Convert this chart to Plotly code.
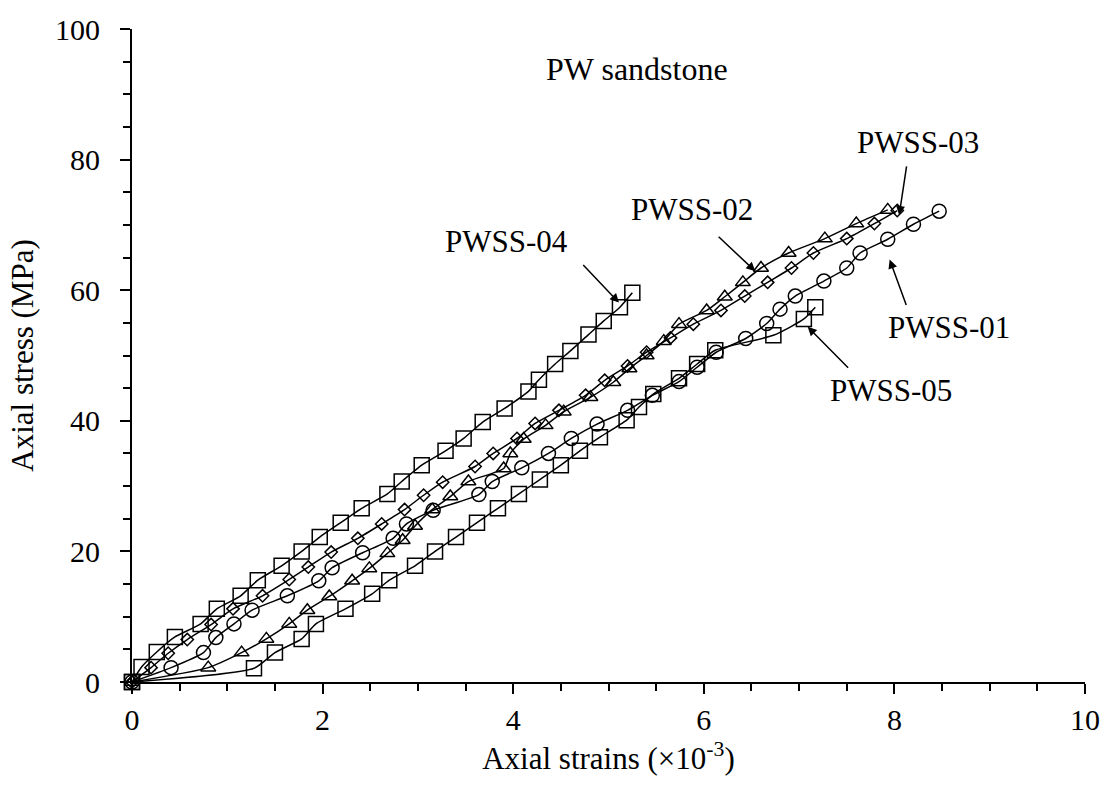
import plotly.graph_objects as go

# ---- data (strain x10^-3, stress MPa) ----
pwss01_x = [0, 0.41, 0.75, 0.88, 1.07, 1.26, 1.63, 1.96, 2.10, 2.42, 2.74, 2.88, 3.16, 3.64, 3.78, 4.09, 4.37, 4.61,
            4.88, 5.20, 5.46, 5.74, 5.93, 6.13, 6.44, 6.66, 6.80, 6.96, 7.26, 7.50, 7.64, 7.93, 8.20, 8.47]
pwss01_y = [0, 2.2, 4.5, 6.8, 8.9, 11.0, 13.2, 15.5, 17.5, 19.8, 22.0, 24.2, 26.3, 28.7, 30.7, 32.8, 35.0, 37.3,
            39.5, 41.6, 43.9, 46.0, 48.2, 50.5, 52.6, 54.9, 57.1, 59.1, 61.4, 63.4, 65.7, 67.8, 70.1, 72.1]

pwss02_x = [0, 0.2, 0.38, 0.58, 0.83, 1.06, 1.37, 1.65, 1.85, 2.09, 2.37, 2.62, 2.86, 3.06, 3.26, 3.60, 3.79, 4.04,
            4.23, 4.48, 4.76, 4.96, 5.20, 5.40, 5.65, 5.89, 6.18, 6.43, 6.67, 6.92, 7.15, 7.50, 7.79, 8.03]
pwss02_y = [0, 2.2, 4.4, 6.5, 8.8, 11.2, 13.2, 15.7, 17.6, 19.9, 22.0, 24.2, 26.4, 28.6, 30.6, 33.0, 35.0, 37.3,
            39.6, 41.6, 43.9, 46.2, 48.4, 50.5, 52.7, 54.8, 56.9, 59.1, 61.2, 63.4, 65.7, 67.9, 70.2, 72.2]

pwss03_x = [0, 0.80, 1.15, 1.41, 1.65, 1.84, 2.07, 2.31, 2.49, 2.68, 2.84, 2.97, 3.15, 3.34, 3.53, 3.90, 3.97, 4.11,
            4.34, 4.53, 4.81, 5.05, 5.22, 5.40, 5.58, 5.74, 6.03, 6.22, 6.41, 6.60, 6.89, 7.27, 7.60, 7.93]
pwss03_y = [0, 2.2, 4.5, 6.6, 8.9, 11.0, 13.1, 15.5, 17.4, 19.7, 21.7, 23.9, 26.4, 28.4, 30.7, 32.7, 35.0, 37.2,
            39.3, 41.4, 43.6, 45.9, 48.0, 50.0, 52.2, 54.8, 56.9, 59.0, 61.2, 63.4, 65.7, 67.9, 70.2, 72.3]

pwss04_x = [0, 0.1, 0.26, 0.45, 0.72, 0.89, 1.14, 1.32, 1.57, 1.78, 1.97, 2.19, 2.41, 2.68, 2.83, 3.04, 3.29, 3.48,
            3.68, 3.91, 4.16, 4.27, 4.44, 4.60, 4.79, 4.95, 5.12, 5.25]
pwss04_y = [0, 2.3, 4.6, 6.9, 8.9, 11.2, 13.2, 15.6, 17.8, 20.0, 22.2, 24.4, 26.6, 28.8, 30.7, 33.2, 35.4, 37.3,
            39.8, 41.9, 44.5, 46.3, 48.7, 50.7, 53.2, 55.3, 57.4, 59.6]

pwss05_x = [0, 1.28, 1.50, 1.78, 1.93, 2.24, 2.52, 2.70, 2.97, 3.18, 3.40, 3.62, 3.84, 4.06, 4.28, 4.50, 4.70, 4.91,
            5.19, 5.32, 5.47, 5.74, 5.93, 6.12, 6.73, 7.05, 7.17]
pwss05_y = [0, 2.1, 4.5, 6.6, 8.9, 11.2, 13.5, 15.6, 17.8, 20.0, 22.2, 24.4, 26.6, 28.8, 31.0, 33.2, 35.4, 37.5,
            40.1, 42.1, 44.1, 46.5, 48.7, 50.8, 53.1, 55.6, 57.4]

labels = ["PWSS-01", "PWSS-02", "PWSS-03", "PWSS-04", "PWSS-05"]
# label text centre (x, y), arrow tail (x, y), arrow head (x, y)
label_pos = [(8.57, 54.3), (5.88, 72.3), (8.25, 82.6), (3.93, 67.5), (7.96, 44.7)]
arrow_tail = [(8.13, 57.5), (6.14, 68.4), (8.13, 79.2), (4.72, 64.1), (7.53, 47.9)]
arrow_head = [(7.95, 64.7), (6.54, 62.9), (8.05, 71.5), (5.11, 58.1), (7.09, 54.4)]

FONT = "Liberation Serif, Times New Roman, serif"
TXT = 31

fig = go.Figure()
series = [
    (pwss01_x, pwss01_y, "circle-open", 14),
    (pwss02_x, pwss02_y, "diamond-open", 9.5),
    (pwss03_x, pwss03_y, "triangle-up-open", 13),
    (pwss04_x, pwss04_y, "square-open", 15),
    (pwss05_x, pwss05_y, "square-open", 15),
]
for (xs, ys, sym, sz), name in zip(series, labels):
    fig.add_trace(go.Scatter(
        x=xs, y=ys, mode="lines+markers", name=name,
        line=dict(color="black", width=1.5, shape="spline", smoothing=0.6),
        marker=dict(symbol=sym, size=sz, color="black", line=dict(color="black", width=1.5)),
        cliponaxis=False, showlegend=False,
    ))

for name, (tx, ty), (ax, ay), (hx, hy) in zip(labels, label_pos, arrow_tail, arrow_head):
    fig.add_annotation(x=tx, y=ty, xref="x", yref="y", text=name, showarrow=False,
                       font=dict(family=FONT, size=TXT, color="black"))
    fig.add_annotation(x=hx, y=hy, ax=ax, ay=ay, xref="x", yref="y", axref="x", ayref="y",
                       text="", showarrow=True, arrowhead=2, arrowsize=1.2, arrowwidth=1.5,
                       arrowcolor="black")

fig.add_annotation(x=5.3, y=93.8, xref="x", yref="y", text="PW sandstone", showarrow=False,
                   font=dict(family=FONT, size=32, color="black"))

axis_common = dict(
    showgrid=False, zeroline=False, showline=True, linecolor="black", linewidth=2,
    ticks="outside", ticklen=10, tickwidth=1.5, tickcolor="black",
    tickfont=dict(family=FONT, size=30, color="black"),
)
fig.update_xaxes(range=[0, 10], dtick=2, tick0=0,
                 minor=dict(dtick=0.5, ticks="outside", ticklen=7, tickwidth=1.5, tickcolor="black"),
                 title=dict(text="Axial strains (×10<sup>-3</sup>)", font=dict(family=FONT, size=TXT, color="black"),
                            standoff=12),
                 **axis_common)
fig.update_yaxes(range=[0, 100], dtick=20, tick0=0,
                 minor=dict(dtick=5, ticks="outside", ticklen=7, tickwidth=1.5, tickcolor="black"),
                 title=dict(text="Axial stress (MPa)", font=dict(family=FONT, size=TXT, color="black"),
                            standoff=12),
                 ticklabelstandoff=14,
                 **axis_common)

fig.update_layout(
    width=1112, height=794,
    margin=dict(l=132, r=27, t=24, b=112),
    paper_bgcolor="white", plot_bgcolor="white",
    font=dict(family=FONT, color="black"),
)

fig.write_html("out.html")
